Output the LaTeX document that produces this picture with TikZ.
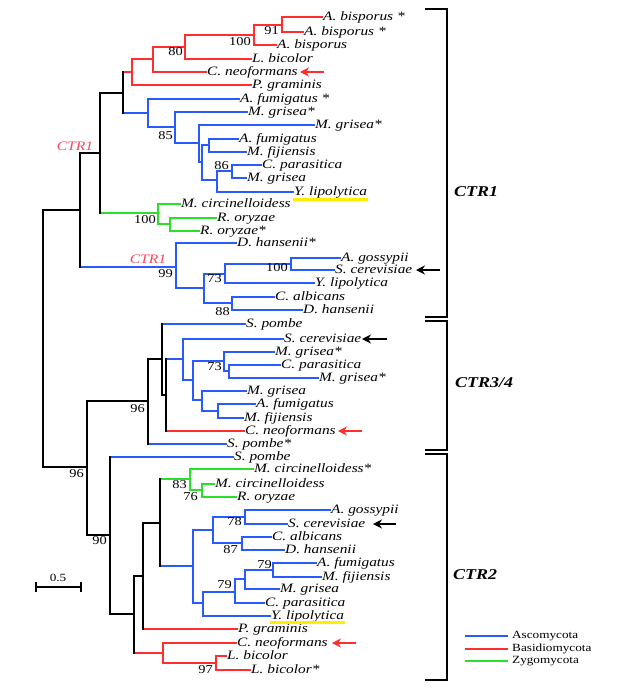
\documentclass[tikz,border=0pt]{standalone}
\usepackage{fontspec}
\setmainfont{Liberation Serif}[FakeStretch=1.2]
\usetikzlibrary{arrows.meta}
\definecolor{cblue}{RGB}{40,90,255}
\definecolor{cred}{RGB}{255,45,45}
\definecolor{cgreen}{RGB}{40,225,40}
\definecolor{cpink}{RGB}{250,70,95}
\definecolor{cyel}{RGB}{255,238,0}
% parent, vertical style, child A, style A, child B, style B
\newcommand\clade[6]{%
  \draw[#4] (#1 |- #3) -- (#3);
  \draw[#6] (#1 |- #5) -- (#5);
  \draw[#2] (#1 |- #3) -- (#1 |- #5);}
\begin{document}
\begin{tikzpicture}[x=1pt,y=-1pt,
  br/.style={line width=1.8pt,line cap=rect},
  bk/.style={br,black}, bl/.style={br,cblue}, rd/.style={br,cred}, gr/.style={br,cgreen},
  leaf/.style={anchor=west,inner sep=1pt,text height=8pt,text depth=2pt,
    font=\fontsize{12.8}{13}\selectfont\itshape},
  boot/.style={anchor=east,inner sep=0pt,font=\fontsize{12}{12}\selectfont},
  ctr/.style={anchor=center,inner sep=0pt,text=cpink,font=\fontsize{13}{13}\selectfont\itshape},
  clab/.style={anchor=west,inner sep=0pt,font=\fontsize{15}{15}\selectfont\bfseries\itshape},
  brk/.style={line width=2.2pt,black},
  lgt/.style={anchor=west,inner sep=0pt,font=\fontsize{11}{11}\selectfont},
  arrB/.style={line width=1.4pt,black,-{Stealth[length=9pt,width=9pt,inset=3pt]}},
  arrR/.style={line width=1.4pt,cred,-{Stealth[length=9pt,width=9pt,inset=3pt]}},
  yel/.style={cyel,line width=3pt}]
\useasboundingbox (0,0) rectangle (619,694);
\fill[white] (0,0) rectangle (619,694);

% ---------------- leaves ----------------
\node[leaf] (l1) at (322,17) {A. bisporus *};
\node[leaf] (l2) at (303,32) {A. bisporus *};
\node[leaf] (l3) at (276,45) {A. bisporus};
\node[leaf] (l4) at (251,59) {L. bicolor};
\node[leaf] (l5) at (206,72) {C. neoformans};
\node[leaf] (l6) at (251,85) {P. graminis};
\node[leaf] (l7) at (239,99) {A. fumigatus *};
\node[leaf] (l8) at (247,112) {M. grisea*};
\node[leaf] (l9) at (314,125) {M. grisea*};
\node[leaf] (l10) at (238,139) {A. fumigatus};
\node[leaf] (l11) at (246,152) {M. fijiensis};
\node[leaf] (l12) at (261,165) {C. parasitica};
\node[leaf] (l13) at (246,178) {M. grisea};
\node[leaf] (l14) at (293,192) {Y. lipolytica};
\node[leaf] (l15) at (180,204) {M. circinelloidess};
\node[leaf] (l16) at (216,218) {R. oryzae};
\node[leaf] (l17) at (199,231) {R. oryzae*};
\node[leaf] (l18) at (236,243) {D. hansenii*};
\node[leaf] (l19) at (340,258) {A. gossypii};
\node[leaf] (l20) at (334,270) {S. cerevisiae};
\node[leaf] (l21) at (314,283) {Y. lipolytica};
\node[leaf] (l22) at (274,297) {C. albicans};
\node[leaf] (l23) at (302,310) {D. hansenii};
\node[leaf] (l24) at (245,324) {S. pombe};
\node[leaf] (l25) at (283,339) {S. cerevisiae};
\node[leaf] (l26) at (274,352) {M. grisea*};
\node[leaf] (l27) at (280,365) {C. parasitica};
\node[leaf] (l28) at (318,378) {M. grisea*};
\node[leaf] (l29) at (246,391) {M. grisea};
\node[leaf] (l30) at (255,404) {A. fumigatus};
\node[leaf] (l31) at (243,418) {M. fijiensis};
\node[leaf] (l32) at (244,431) {C. neoformans};
\node[leaf] (l33) at (226,444) {S. pombe*};
\node[leaf] (l34) at (233,457) {S. pombe};
\node[leaf] (l35) at (253,469) {M. circinelloidess*};
\node[leaf] (l36) at (214,484) {M. circinelloidess};
\node[leaf] (l37) at (236,497) {R. oryzae};
\node[leaf] (l38) at (330,510) {A. gossypii};
\node[leaf] (l39) at (287,524) {S. cerevisiae};
\node[leaf] (l40) at (271,537) {C. albicans};
\node[leaf] (l41) at (284,550) {D. hansenii};
\node[leaf] (l42) at (316,563) {A. fumigatus};
\node[leaf] (l43) at (321,577) {M. fijiensis};
\node[leaf] (l44) at (279,589) {M. grisea};
\node[leaf] (l45) at (264,603) {C. parasitica};
\node[leaf] (l46) at (270,616) {Y. lipolytica};
\node[leaf] (l47) at (237,629) {P. graminis};
\node[leaf] (l48) at (236,643) {C. neoformans};
\node[leaf] (l49) at (226,656) {L. bicolor};
\node[leaf] (l50) at (250,670) {L. bicolor*};

% yellow underlines
\draw[yel] ([yshift=-1pt]l14.south west) -- ([yshift=-1pt]l14.south east);
\draw[yel] ([yshift=0pt]l46.south west) -- ([yshift=0pt]l46.south east);

% ---------------- internal nodes ----------------
\coordinate (n91) at (282,25);
\coordinate (n100a) at (254,35);
\coordinate (n80) at (185,47);
\coordinate (nc) at (153,59);
\coordinate (nd) at (132,72);
\coordinate (ne) at (123,93);
\coordinate (nf) at (148,113);
\coordinate (n85) at (175,127);
\coordinate (ng) at (199,143);
\coordinate (nh) at (202,162);
\coordinate (ni) at (209,145);
\coordinate (nj) at (217,180);
\coordinate (n86) at (232,171);
\coordinate (nk) at (100,153);
\coordinate (ngr) at (158,213);
\coordinate (nl) at (170,224);
\coordinate (nm) at (80,210);
\coordinate (n99) at (176,267);
\coordinate (no) at (204,288);
\coordinate (n73) at (225,274);
\coordinate (n100b) at (291,264);
\coordinate (n88) at (232,303);
\coordinate (root) at (43,338);
\coordinate (nq) at (87,467);
\coordinate (nr) at (148,401);
\coordinate (nt) at (162,359);
\coordinate (nu) at (166,395);
\coordinate (nv) at (183,359);
\coordinate (nw) at (193,380);
\coordinate (n73b) at (224,361);
\coordinate (ny) at (229,371);
\coordinate (nx) at (202,400);
\coordinate (nz) at (218,411);
\coordinate (ns) at (110,535);
\coordinate (na2) at (134,614);
\coordinate (nb2) at (143,576);
\coordinate (nd2) at (160,523);
\coordinate (ne2) at (190,479);
\coordinate (n76) at (202,490);
\coordinate (nf2) at (193,566);
\coordinate (ng2) at (213,530);
\coordinate (n78) at (245,517);
\coordinate (n87) at (242,543);
\coordinate (nh2) at (203,603);
\coordinate (ni2) at (235,592);
\coordinate (nj2) at (245,579);
\coordinate (n79b) at (273,570);
\coordinate (nc2) at (163,653);
\coordinate (n97) at (216,663);

% ---------------- branches ----------------
\clade{n91}{rd}{l1.west}{rd}{l2.west}{rd}
\clade{n100a}{rd}{n91}{rd}{l3.west}{rd}
\clade{n80}{rd}{n100a}{rd}{l4.west}{rd}
\clade{nc}{rd}{n80}{rd}{l5.west}{rd}
\clade{nd}{rd}{nc}{rd}{l6.west}{rd}
\clade{ni}{bl}{l10.west}{bl}{l11.west}{bl}
\clade{n86}{bl}{l12.west}{bl}{l13.west}{bl}
\clade{nj}{bl}{n86}{bl}{l14.west}{bl}
\clade{nh}{bl}{ni}{bl}{nj}{bl}
\clade{ng}{bl}{l9.west}{bl}{nh}{bl}
\clade{n85}{bl}{l8.west}{bl}{ng}{bl}
\clade{nf}{bl}{l7.west}{bl}{n85}{bl}
\clade{ne}{bk}{nd}{rd}{nf}{bl}
\clade{nl}{gr}{l16.west}{gr}{l17.west}{gr}
\clade{ngr}{gr}{l15.west}{gr}{nl}{gr}
\clade{nk}{bk}{ne}{bk}{ngr}{gr}
\clade{n100b}{bl}{l19.west}{bl}{l20.west}{bl}
\clade{n73}{bl}{n100b}{bl}{l21.west}{bl}
\clade{n88}{bl}{l22.west}{bl}{l23.west}{bl}
\clade{no}{bl}{n73}{bl}{n88}{bl}
\clade{n99}{bl}{l18.west}{bl}{no}{bl}
\clade{nm}{bk}{nk}{bk}{n99}{bl}

\clade{ny}{bl}{l27.west}{bl}{l28.west}{bl}
\clade{n73b}{bl}{l26.west}{bl}{ny}{bl}
\clade{nz}{bl}{l30.west}{bl}{l31.west}{bl}
\clade{nx}{bl}{l29.west}{bl}{nz}{bl}
\clade{nw}{bl}{n73b}{bl}{nx}{bl}
\clade{nv}{bl}{l25.west}{bl}{nw}{bl}
\clade{nu}{bk}{nv}{bl}{l32.west}{rd}
\clade{nt}{bk}{l24.west}{bl}{nu}{bk}
\clade{nr}{bk}{nt}{bk}{l33.west}{bl}

\clade{n76}{gr}{l36.west}{gr}{l37.west}{gr}
\clade{ne2}{gr}{l35.west}{gr}{n76}{gr}
\clade{n78}{bl}{l38.west}{bl}{l39.west}{bl}
\clade{n87}{bl}{l40.west}{bl}{l41.west}{bl}
\clade{ng2}{bl}{n78}{bl}{n87}{bl}
\clade{n79b}{bl}{l42.west}{bl}{l43.west}{bl}
\clade{nj2}{bl}{n79b}{bl}{l44.west}{bl}
\clade{ni2}{bl}{nj2}{bl}{l45.west}{bl}
\clade{nh2}{bl}{ni2}{bl}{l46.west}{bl}
\clade{nf2}{bl}{ng2}{bl}{nh2}{bl}
\clade{nd2}{bk}{ne2}{gr}{nf2}{bl}
\clade{nb2}{bk}{nd2}{bk}{l47.west}{rd}
\clade{n97}{rd}{l49.west}{rd}{l50.west}{rd}
\clade{nc2}{rd}{l48.west}{rd}{n97}{rd}
\clade{na2}{bk}{nb2}{bk}{nc2}{rd}
\clade{ns}{bk}{l34.west}{bl}{na2}{bk}
\clade{nq}{bk}{nr}{bk}{ns}{bk}
\clade{root}{bk}{nm}{bk}{nq}{bk}

% ---------------- support values ----------------
\node[boot] (b1) at (279,31) {91};
\node[boot] (b2) at (251,42) {100};
\node[boot] (b3) at (183,52) {80};
\node[boot] (b4) at (173,136) {85};
\node[boot] (b5) at (229,166) {86};
\node[boot] (b6) at (156,220) {100};
\node[boot] (b7) at (173,274) {99};
\node[boot] (b8) at (222,279) {73};
\node[boot] (b9) at (288,268) {100};
\node[boot] (b10) at (230,312) {88};
\node[boot] (b11) at (145,409) {96};
\node[boot] (b12) at (222,367) {73};
\node[boot] (b13) at (84,474) {96};
\node[boot] (b14) at (107,541) {90};
\node[boot] (b15) at (187,485) {83};
\node[boot] (b16) at (198,497) {76};
\node[boot] (b17) at (242,522) {78};
\node[boot] (b18) at (238,550) {87};
\node[boot] (b19) at (272,565) {79};
\node[boot] (b20) at (232,585) {79};
\node[boot] (b21) at (213,670) {97};

\node[ctr] (t1) at (75,146) {CTR1};
\node[ctr] (t2) at (148,259) {CTR1};

% ---------------- arrows ----------------
\coordinate (a1h) at (300,72);  \coordinate (a1t) at (324,72);
\coordinate (a2h) at (416,270); \coordinate (a2t) at (440,270);
\coordinate (a3h) at (362,339); \coordinate (a3t) at (387,339);
\coordinate (a4h) at (338,431); \coordinate (a4t) at (362,431);
\coordinate (a5h) at (373,524); \coordinate (a5t) at (396,524);
\coordinate (a6h) at (332,643); \coordinate (a6t) at (356,643);
\draw[arrR] (a1t) -- (a1h);
\draw[arrB] (a2t) -- (a2h);
\draw[arrB] (a3t) -- (a3h);
\draw[arrR] (a4t) -- (a4h);
\draw[arrB] (a5t) -- (a5h);
\draw[arrR] (a6t) -- (a6h);

% ---------------- brackets ----------------
\coordinate (k1a) at (425,9);   \coordinate (k1b) at (425,317);
\coordinate (k2a) at (425,321); \coordinate (k2b) at (425,450);
\coordinate (k3a) at (425,454); \coordinate (k3b) at (425,680);
\draw[brk] (k1a) -- ++(22,0) |- (k1b);
\draw[brk] (k2a) -- ++(22,0) |- (k2b);
\draw[brk] (k3a) -- ++(22,0) |- (k3b);
\node[clab] (c1) at (454,192) {CTR1};
\node[clab] (c2) at (455,383) {CTR3/4};
\node[clab] (c3) at (453,575) {CTR2};

% ---------------- scale bar ----------------
\coordinate (s1) at (36,587); \coordinate (s2) at (81,587);
\draw[black,line width=1.6pt] (s1) -- (s2);
\draw[black,line width=1.6pt] ([yshift=5pt]s1) -- ([yshift=-5pt]s1);
\draw[black,line width=1.6pt] ([yshift=5pt]s2) -- ([yshift=-5pt]s2);
\node[anchor=center,inner sep=0pt,font=\fontsize{11}{11}\selectfont] (sl) at (58,578) {0.5};

% ---------------- legend ----------------
\node[lgt] (g1) at (512,636) {Ascomycota};
\node[lgt] (g2) at (512,649) {Basidiomycota};
\node[lgt] (g3) at (512,661) {Zygomycota};
\coordinate (g1s) at (465,636); \coordinate (g2s) at (465,649); \coordinate (g3s) at (465,661);
\draw[cblue,line width=1.4pt] (g1s) -- ([xshift=-4pt]g1.west);
\draw[cred,line width=1.4pt] (g2s) -- ([xshift=-4pt]g2.west);
\draw[cgreen,line width=1.4pt] (g3s) -- ([xshift=-4pt]g3.west);
\end{tikzpicture}
\end{document}
